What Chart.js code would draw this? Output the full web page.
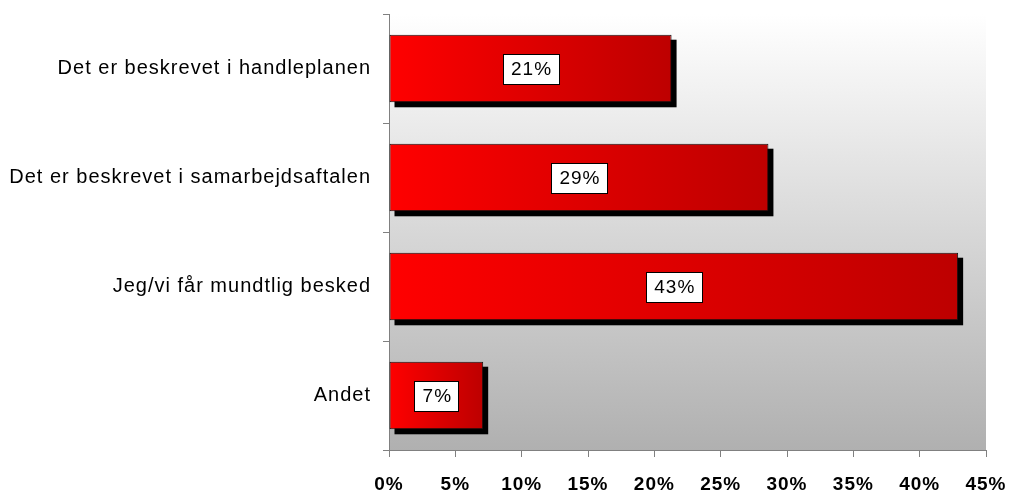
<!DOCTYPE html>
<html>
<head>
<meta charset="utf-8">
<script src="https://cdn.jsdelivr.net/npm/chart.js@4.4.0/dist/chart.umd.min.js"></script>
<style>
    html, body { margin: 0; padding: 0; background: #ffffff; }
    #wrap { width: 1011px; height: 492px; }
</style>
</head>
<body>
<div id="wrap"><canvas id="chart" width="1011" height="492"></canvas></div>
<script>
// Categories and values
const categories = [
    'Det er beskrevet i handleplanen',
    'Det er beskrevet i samarbejdsaftalen',
    'Jeg/vi får mundtlig besked',
    'Andet'
];
const values = [21.3, 28.6, 42.9, 7.1];
const xTicks = [0, 5, 10, 15, 20, 25, 30, 35, 40, 45];

const FONT = '"Liberation Sans", Arial, sans-serif';

// Slightly loose letter spacing like the original GDI rendering
const spacing = {
    id: 'spacing',
    beforeDraw(chart) {
        chart.ctx.letterSpacing = '1px';
    }
};

// Grey-to-white backdrop inside the plot area
const backdrop = {
    id: 'backdrop',
    beforeDraw(chart) {
        const { ctx, chartArea: a } = chart;
        const g = ctx.createLinearGradient(0, a.top, 0, a.bottom);
        g.addColorStop(0, '#ffffff');
        g.addColorStop(1, '#b0b0b0');
        ctx.save();
        ctx.fillStyle = g;
        ctx.fillRect(a.left, a.top, a.right - a.left, a.bottom - a.top);
        ctx.restore();
    }
};

// Black drop shadow behind each bar
const barShadow = {
    id: 'barShadow',
    beforeDatasetsDraw(chart) {
        const { ctx } = chart;
        ctx.save();
        ctx.fillStyle = '#000000';
        chart.getDatasetMeta(0).data.forEach(bar => {
            const p = bar.getProps(['x', 'y', 'base', 'height'], true);
            ctx.fillRect(p.base + 5, p.y - p.height / 2 + 5, p.x - p.base, p.height);
        });
        ctx.restore();
    }
};

// White boxed value labels in the middle of each bar
const valueLabels = {
    id: 'valueLabels',
    afterDatasetsDraw(chart) {
        const { ctx } = chart;
        ctx.save();
        ctx.font = '19px ' + FONT;
        ctx.letterSpacing = '1px';
        ctx.textAlign = 'center';
        ctx.textBaseline = 'middle';
        chart.getDatasetMeta(0).data.forEach((bar, i) => {
            const p = bar.getProps(['x', 'y', 'base'], true);
            const text = Math.round(values[i]) + '%';
            const cx = (p.x + p.base) / 2;
            const w = Math.round(ctx.measureText(text).width + 15);
            const h = 30;
            const bx = Math.round(cx - w / 2) + 0.5;
            const by = Math.round(p.y - h / 2) + 0.5;
            ctx.fillStyle = '#ffffff';
            ctx.fillRect(bx, by, w, h);
            ctx.strokeStyle = '#000000';
            ctx.lineWidth = 1;
            ctx.strokeRect(bx, by, w, h);
            ctx.fillStyle = '#000000';
            ctx.fillText(text, cx + 1, p.y + 1);
        });
        ctx.restore();
    }
};

function barGradient(c) {
    const chart = c.chart;
    if (!chart.chartArea) return '#e00000';
    const x = chart.scales.x;
    const x0 = x.getPixelForValue(0);
    const x1 = x.getPixelForValue(values[c.dataIndex]);
    const g = chart.ctx.createLinearGradient(x0, 0, x1, 0);
    g.addColorStop(0, '#ff0000');
    g.addColorStop(1, '#bd0000');
    return g;
}

// Let layout.padding alone decide where the plot area sits
function noEdgePadding(scale) {
    scale.paddingTop = 0;
    scale.paddingBottom = 0;
    scale.paddingLeft = 0;
    scale.paddingRight = 0;
}

new Chart(document.getElementById('chart').getContext('2d'), {
    type: 'bar',
    data: {
        labels: categories,
        datasets: [{
            data: values,
            backgroundColor: barGradient,
            borderColor: '#111111',
            borderWidth: 1,
            borderSkipped: false,
            barPercentage: 0.62,
            categoryPercentage: 1
        }]
    },
    options: {
        indexAxis: 'y',
        responsive: false,
        animation: false,
        devicePixelRatio: 1,
        layout: { padding: { top: 14, right: 25, bottom: 0, left: 0 } },
        plugins: {
            legend: { display: false },
            tooltip: { enabled: false }
        },
        scales: {
            x: {
                min: 0,
                max: 45,
                afterBuildTicks(scale) {
                    scale.ticks = xTicks.map(v => ({ value: v }));
                },
                afterFit(scale) {
                    scale.height = 42;
                    noEdgePadding(scale);
                },
                grid: {
                    drawOnChartArea: false,
                    drawTicks: true,
                    tickLength: 7,
                    color: '#808080'
                },
                border: { color: '#808080', width: 1 },
                ticks: {
                    color: '#000000',
                    padding: 16,
                    font: { family: FONT, size: 19, weight: 'bold' },
                    callback: v => v + '%'
                }
            },
            y: {
                afterFit(scale) {
                    scale.width = 389;
                    noEdgePadding(scale);
                },
                grid: {
                    drawOnChartArea: false,
                    drawTicks: true,
                    tickLength: 6,
                    color: '#808080'
                },
                border: { color: '#808080', width: 1 },
                ticks: {
                    color: '#000000',
                    padding: 12,
                    font: { family: FONT, size: 20 }
                }
            }
        }
    },
    plugins: [spacing, backdrop, barShadow, valueLabels]
});
</script>
</body>
</html>
